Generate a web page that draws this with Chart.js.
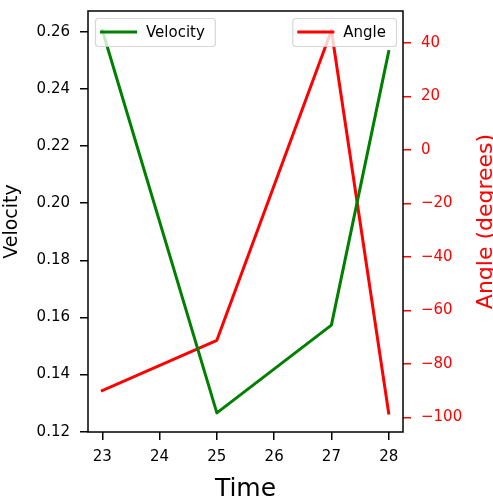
<!DOCTYPE html>
<html>
<head>
<meta charset="utf-8">
<script src="https://cdn.jsdelivr.net/npm/chart.js@4"></script>
<style>
  html, body { margin: 0; padding: 0; background: #fff; overflow: hidden; }
  canvas { display: block; }
</style>
</head>
<body>
<canvas id="chart" width="493" height="502"></canvas>
<script>
// values
const times = [23, 25, 27, 28];
const velocity = [0.2606, 0.1266, 0.1573, 0.2531];
const angleDeg = [-90.0, -71.2, 44.7, -98.4];

const seriesLabels = ['Velocity', 'Angle'];
const seriesColors = ['#008000', '#ff0000'];
const axisTitles = { x: 'Time', y: 'Velocity', y1: 'Angle (degrees)' };

const FONT = 'DejaVu Sans';

const mplFrame = {
  id: 'mplFrame',
  afterDatasetsDraw(chart, args, options) {
    const {ctx, chartArea: {left, top, right, bottom}} = chart;
    ctx.save();

    // spines
    ctx.strokeStyle = '#000';
    ctx.lineWidth = 1.5;
    ctx.strokeRect(left, top, right - left, bottom - top);

    // the two separate legends (upper left / upper right)
    ctx.font = '15px ' + FONT;
    ctx.textBaseline = 'middle';
    ctx.textAlign = 'left';
    const drawLegend = (label, color, x, y, fromRight) => {
      const tw = ctx.measureText(label).width;
      const w = 5 + 37 + 9 + tw + 10;
      const h = 28;
      const bx = fromRight ? x - w : x;
      ctx.beginPath();
      ctx.roundRect(bx + 0.5, y + 0.5, w, h, 3);
      ctx.fillStyle = 'rgba(255,255,255,0.8)';
      ctx.fill();
      ctx.strokeStyle = 'rgba(204,204,204,0.8)';
      ctx.lineWidth = 1.2;
      ctx.stroke();
      const ly = y + h / 2;
      ctx.beginPath();
      ctx.moveTo(bx + 5, ly);
      ctx.lineTo(bx + 42, ly);
      ctx.strokeStyle = color;
      ctx.lineWidth = 3;
      ctx.stroke();
      ctx.fillStyle = '#000';
      ctx.fillText(label, bx + 51, ly + 1);
    };
    drawLegend(seriesLabels[0], seriesColors[0], left + 7, top + 7, false);
    drawLegend(seriesLabels[1], seriesColors[1], right - 7, top + 7, true);

    // axis titles
    const midY = (top + bottom) / 2;
    ctx.textAlign = 'center';
    ctx.textBaseline = 'alphabetic';

    ctx.fillStyle = '#000';
    ctx.font = '19px ' + FONT;
    ctx.save();
    ctx.translate(16.5, midY);
    ctx.rotate(-Math.PI / 2);
    ctx.fillText(axisTitles.y, 0, 0);
    ctx.restore();

    ctx.fillStyle = '#ff0000';
    ctx.font = '22px ' + FONT;
    ctx.save();
    ctx.translate(492, midY);
    ctx.rotate(-Math.PI / 2);
    ctx.fillText(axisTitles.y1, 0, 0);
    ctx.restore();

    ctx.fillStyle = '#000';
    ctx.font = '25px ' + FONT;
    ctx.fillText(axisTitles.x, (left + right) / 2, 496);

    ctx.restore();
  }
};

const minus = v => (v < 0 ? '\u2212' + Math.abs(v) : String(v));

// fixed box sizes, no extra label padding around the plot
const fixVertical = w => s => { s.width = w; s.paddingTop = 0; s.paddingBottom = 0; };
const fixHorizontal = h => s => { s.height = h; s.paddingLeft = 0; s.paddingRight = 0; };

new Chart(document.getElementById('chart'), {
  type: 'line',
  data: {
    datasets: [
      {
        label: seriesLabels[0],
        data: times.map((t, i) => ({x: t, y: velocity[i]})),
        borderColor: seriesColors[0],
        backgroundColor: seriesColors[0],
        borderWidth: 3,
        borderJoinStyle: 'round',
        borderCapStyle: 'square',
        pointRadius: 0,
        tension: 0,
        yAxisID: 'y'
      },
      {
        label: seriesLabels[1],
        data: times.map((t, i) => ({x: t, y: angleDeg[i]})),
        borderColor: seriesColors[1],
        backgroundColor: seriesColors[1],
        borderWidth: 3,
        borderJoinStyle: 'round',
        borderCapStyle: 'square',
        pointRadius: 0,
        tension: 0,
        yAxisID: 'y1'
      }
    ]
  },
  options: {
    responsive: false,
    animation: false,
    layout: { padding: { top: 11, left: 0, right: 0, bottom: 0 } },
    plugins: {
      legend: { display: false },
      tooltip: { enabled: false }
    },
    scales: {
      x: {
        type: 'linear',
        position: 'bottom',
        min: 22.75,
        max: 28.25,
        afterFit: fixHorizontal(70),
        border: { display: false },
        grid: { drawOnChartArea: false, color: '#000', lineWidth: 1.5, tickLength: 8 },
        ticks: {
          stepSize: 1,
          includeBounds: false,
          padding: 8,
          color: '#000',
          font: { family: FONT, size: 15 },
          maxRotation: 0
        }
      },
      y: {
        type: 'linear',
        position: 'left',
        min: 0.1199,
        max: 0.2673,
        afterFit: fixVertical(88),
        border: { display: false },
        grid: { drawOnChartArea: false, color: '#000', lineWidth: 1.5, tickLength: 8 },
        ticks: {
          stepSize: 0.02,
          includeBounds: false,
          padding: 10,
          color: '#000',
          font: { family: FONT, size: 15 },
          callback: v => v.toFixed(2)
        }
      },
      y1: {
        type: 'linear',
        position: 'right',
        min: -105.5,
        max: 52.0,
        afterFit: fixVertical(90),
        border: { display: false },
        grid: { drawOnChartArea: false, color: '#ff0000', lineWidth: 1.5, tickLength: 8 },
        ticks: {
          stepSize: 20,
          includeBounds: false,
          padding: 10,
          color: '#ff0000',
          font: { family: FONT, size: 15 },
          callback: v => minus(Math.round(v))
        }
      }
    }
  },
  plugins: [mplFrame]
});
</script>
</body>
</html>
